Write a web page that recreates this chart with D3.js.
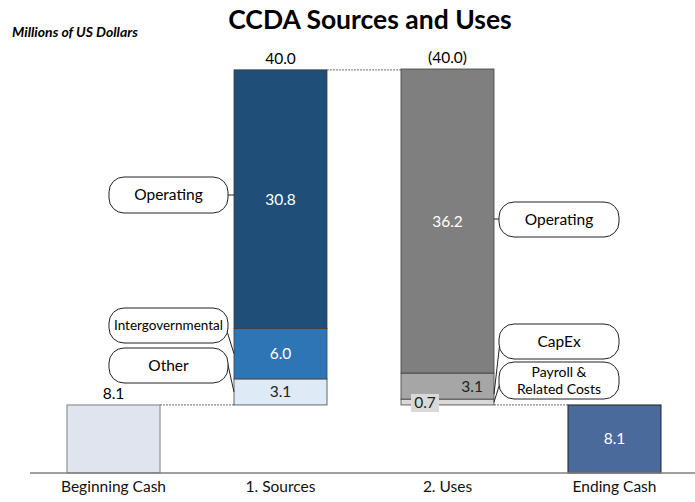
<!DOCTYPE html>
<html><head><meta charset="utf-8">
<script src="https://cdn.jsdelivr.net/npm/d3@7"></script>
<style>body{margin:0;background:#fff}svg{display:block}text{font-family:Lato,"Open Sans",sans-serif}</style>
</head><body>
<script>
const categories = ["Beginning Cash", "1. Sources", "2. Uses", "Ending Cash"];
const beginningCash = 8.1;
const endingCash = 8.1;
const sourceNames = ["Other", "Intergovernmental", "Operating"];
const sourceValues = [3.1, 6.0, 30.8];
const useNames = ["Payroll & Related Costs", "CapEx", "Operating"];
const useValues = [0.7, 3.1, 36.2];
const totalLabels = ["40.0", "(40.0)"];

const W = 695, H = 502;
const FS = 15.5;
const svg = d3.select("body").append("svg").attr("width", W).attr("height", H);

const x = d3.scaleBand().domain(categories).range([30, 698]).paddingInner(0.443).paddingOuter(0.2215);
const y = d3.scaleLinear().domain([0, 48.1]).range([473, 69]);
const bw = x.bandwidth();

const srcColors = ["#deebf7", "#2e75b6", "#1f4e79"];
const srcText = ["#222", "#fff", "#fff"];
const useColors = ["#d9d9d9", "#a6a6a6", "#7f7f7f"];

// title
svg.append("text").attr("x", 370).attr("y", 29).attr("text-anchor", "middle")
  .attr("font-size", 26.5).attr("font-weight", "bold").text("CCDA Sources and Uses");
svg.append("text").attr("x", 12).attr("y", 37).attr("font-size", 14)
  .attr("font-weight", "bold").attr("font-style", "italic").text("Millions of US Dollars");

// stacks
function stack(base, vals) {
  let c = base; return vals.map(v => { const s = c; c += v; return [s, c]; });
}
const srcStack = stack(beginningCash, sourceValues);
const useStack = stack(endingCash, useValues);
const srcTop = srcStack[srcStack.length - 1][1];
const useTop = useStack[useStack.length - 1][1];

// connectors
const conn = svg.append("g").attr("stroke", "#888").attr("stroke-width", 1.2).attr("stroke-dasharray", "2,1");
conn.append("line").attr("x1", x(categories[0]) + bw).attr("x2", x(categories[1]))
  .attr("y1", y(beginningCash)).attr("y2", y(beginningCash));
conn.append("line").attr("x1", x(categories[1]) + bw).attr("x2", x(categories[2]))
  .attr("y1", y(srcTop)).attr("y2", y(srcTop));
conn.append("line").attr("x1", x(categories[2]) + bw).attr("x2", x(categories[3]))
  .attr("y1", y(endingCash)).attr("y2", y(endingCash));

// beginning cash
svg.append("rect").attr("x", x(categories[0])).attr("y", y(beginningCash)).attr("width", bw)
  .attr("height", y(0) - y(beginningCash)).attr("fill", "#dfe4ef").attr("stroke", "#7f7f7f").attr("stroke-width", 1);
svg.append("text").attr("x", x(categories[0]) + bw / 2).attr("y", y(beginningCash) - 6)
  .attr("text-anchor", "middle").attr("font-size", FS).text(beginningCash.toFixed(1));

// sources
srcStack.forEach((d, i) => {
  svg.append("rect").attr("x", x(categories[1])).attr("y", y(d[1])).attr("width", bw)
    .attr("height", y(d[0]) - y(d[1])).attr("fill", srcColors[i]).attr("stroke", "#404040").attr("stroke-width", 0.8);
  svg.append("text").attr("x", x(categories[1]) + bw / 2).attr("y", y((d[0] + d[1]) / 2) + 5.5)
    .attr("text-anchor", "middle").attr("font-size", FS).attr("fill", srcText[i]).text(sourceValues[i].toFixed(1));
});
svg.append("text").attr("x", x(categories[1]) + bw / 2).attr("y", y(srcTop) - 6)
  .attr("text-anchor", "middle").attr("font-size", FS).text(totalLabels[0]);

// uses
useStack.forEach((d, i) => {
  svg.append("rect").attr("x", x(categories[2])).attr("y", y(d[1])).attr("width", bw)
    .attr("height", y(d[0]) - y(d[1])).attr("fill", useColors[i]).attr("stroke", "#404040").attr("stroke-width", 0.8);
});
svg.append("text").attr("x", x(categories[2]) + bw / 2).attr("y", y((useStack[2][0] + useStack[2][1]) / 2) + 5.5)
  .attr("text-anchor", "middle").attr("font-size", FS).attr("fill", "#fff").text(useValues[2].toFixed(1));
svg.append("text").attr("x", x(categories[2]) + bw - 11).attr("y", y((useStack[1][0] + useStack[1][1]) / 2) + 5.5)
  .attr("text-anchor", "end").attr("font-size", FS).attr("fill", "#222").text(useValues[1].toFixed(1));
// 0.7 with background
const smallY = y(useStack[0][0]);
const sg = svg.append("g");
sg.append("rect").attr("x", x(categories[2]) + 10).attr("y", smallY - 11).attr("width", 28).attr("height", 18).attr("fill", "#d9d9d9");
sg.append("text").attr("x", x(categories[2]) + 24).attr("y", smallY + 3.5).attr("text-anchor", "middle")
  .attr("font-size", FS).attr("fill", "#222").text(useValues[0].toFixed(1));
svg.append("text").attr("x", x(categories[2]) + bw / 2).attr("y", y(useTop) - 6)
  .attr("text-anchor", "middle").attr("font-size", FS).text(totalLabels[1]);

// ending cash
svg.append("rect").attr("x", x(categories[3])).attr("y", y(endingCash)).attr("width", bw)
  .attr("height", y(0) - y(endingCash)).attr("fill", "#4a6a9b").attr("stroke", "#222").attr("stroke-width", 1);
svg.append("text").attr("x", x(categories[3]) + bw / 2).attr("y", y(endingCash / 2) + 5.5)
  .attr("text-anchor", "middle").attr("font-size", FS).attr("fill", "#fff").text(endingCash.toFixed(1));

// axis
const ax = svg.append("g").attr("transform", `translate(0,${y(0)})`)
  .call(d3.axisBottom(x).tickSize(0).tickPadding(8));
ax.select(".domain").attr("stroke", "#7f7f7f").attr("stroke-width", 1.5).attr("d", "M30,0H695");
ax.selectAll("text").attr("font-size", FS).attr("font-family", "Lato,'Open Sans',sans-serif").attr("fill", "#111");

// callouts
function callout(bx, by, w, h, lines, fs, lx1, ly1, lx2, ly2) {
  svg.append("line").attr("x1", lx1).attr("y1", ly1).attr("x2", lx2).attr("y2", ly2)
    .attr("stroke", "#222").attr("stroke-width", 1);
  svg.append("rect").attr("x", bx).attr("y", by).attr("width", w).attr("height", h)
    .attr("rx", 15).attr("ry", 15).attr("fill", "#fff").attr("stroke", "#222").attr("stroke-width", 1);
  const t = svg.append("text").attr("text-anchor", "middle").attr("font-size", fs);
  lines.forEach((l, k) => {
    t.append("tspan").attr("x", bx + w / 2)
      .attr("y", by + h / 2 + fs * 0.35 + (k - (lines.length - 1) / 2) * fs * 1.2).text(l);
  });
}
const sx = x(categories[1]), ux = x(categories[2]) + bw;
const mid = (d) => y((d[0] + d[1]) / 2);
// left side
callout(sx - 125, 177, 119, 36, [sourceNames[2]], FS, sx - 6, 195, sx, 195);
callout(sx - 125, 308, 119, 35, [sourceNames[1]], 13.5, sx - 8, 328, sx, mid(srcStack[1]));
callout(sx - 125, 348, 119, 35, [sourceNames[0]], FS, sx - 8, 356, sx, mid(srcStack[0]));
// right side
callout(ux + 5, 202, 120, 35, [useNames[2]], FS, ux, 219, ux + 5, 219);
callout(ux + 5, 324, 120, 35, [useNames[1]], FS, ux + 7, 333, ux, mid(useStack[1]) + 8);
callout(ux + 5, 362, 120, 37, ["Payroll &", "Related Costs"], 14, ux + 7, 380, ux, mid(useStack[0]));
</script>
</body></html>
